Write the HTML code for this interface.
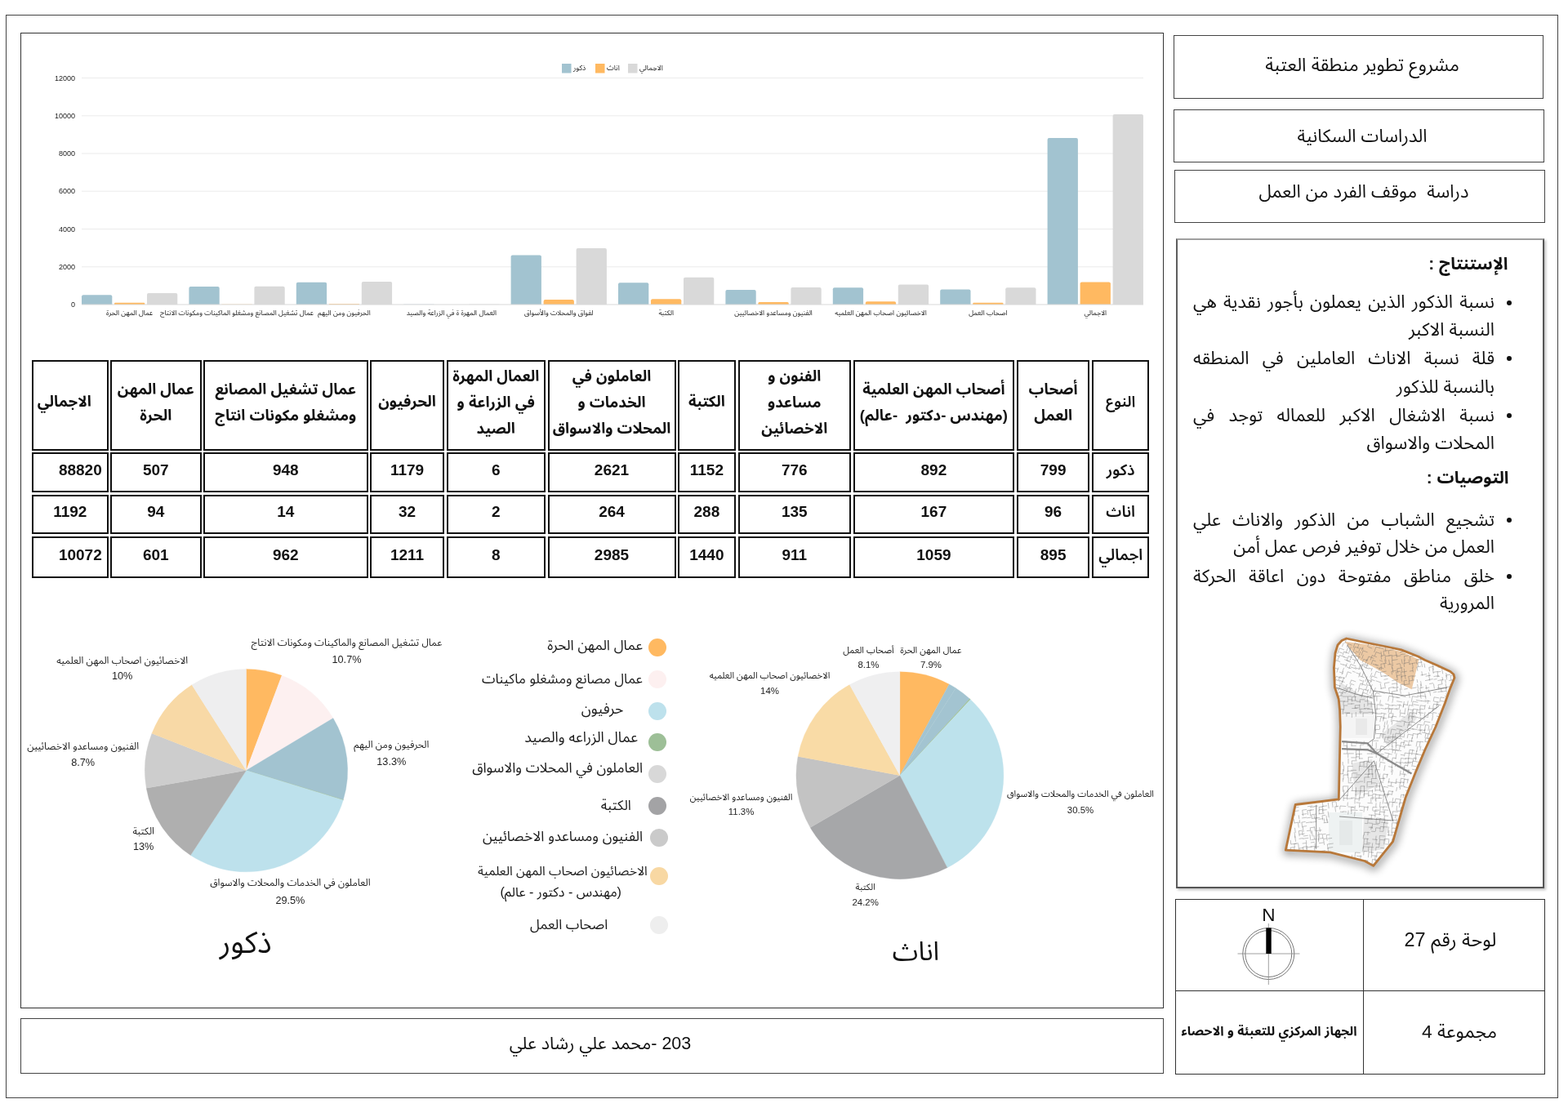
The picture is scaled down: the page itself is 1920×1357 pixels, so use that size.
<!DOCTYPE html>
<html><head><meta charset="utf-8"><style>
html,body{margin:0;padding:0;background:#fff;}
body{width:1920px;height:1357px;position:relative;overflow:hidden;font-family:"Liberation Sans", "Noto Sans Arabic", "DejaVu Sans", sans-serif;}
.bx{position:absolute;box-sizing:border-box;}
.t{position:absolute;white-space:nowrap;line-height:1.25;direction:rtl;}
.ab{position:absolute;overflow:visible;}
</style></head><body>
<div class="bx" style="left:7px;top:18px;width:1901.00px;height:1327.00px;border:1.3px solid #444;"></div><div class="bx" style="left:25px;top:40px;width:1399.50px;height:1195.00px;border:1.4px solid #333;"></div><div class="bx" style="left:25px;top:1247px;width:1400.00px;height:68.00px;border:1.3px solid #444;"></div><div class="bx" style="left:1437px;top:42.5px;width:453.00px;height:78.00px;border:1.3px solid #444;"></div><div class="bx" style="left:1436.5px;top:133.5px;width:454.50px;height:65.50px;border:1.3px solid #444;"></div><div class="bx" style="left:1437.5px;top:207.5px;width:454.00px;height:65.00px;border:1.3px solid #444;"></div><div class="bx" style="left:1440px;top:292px;width:451px;height:796px;border-left:2px solid #5e5e5e;border-top:2.5px solid #a0a0a0;border-right:2.5px solid #555;border-bottom:2.5px solid #555;box-shadow:2px 2px 3px rgba(0,0,0,.25)"></div><div class="bx" style="left:1438.5px;top:1101px;width:453.50px;height:215.00px;border:1.7px solid #333;"></div><div class="bx" style="left:1669px;top:1102px;width:0;height:213px;border-left:1.3px solid #333"></div><div class="bx" style="left:1439px;top:1213px;width:453px;height:0;border-top:1.3px solid #333"></div><div class="t" style="left:1668px;top:80px;font-size:22.6px;font-weight:400;color:#111;transform:translate(-50%,-50%);">مشروع تطوير منطقة العتبة</div><div class="t" style="left:1668px;top:167px;font-size:22px;font-weight:400;color:#111;transform:translate(-50%,-50%);">الدراسات السكانية</div><div class="t" style="left:1670px;top:235px;font-size:22px;font-weight:400;color:#111;transform:translate(-50%,-50%);">دراسة&nbsp; موقف الفرد من العمل</div><div class="t" style="left:1776px;top:1152px;font-size:23.4px;font-weight:400;color:#111;transform:translate(-50%,-50%);">لوحة رقم 27</div><div class="t" style="left:1787px;top:1263px;font-size:22.8px;font-weight:400;color:#111;transform:translate(-50%,-50%);">مجموعة 4</div><div class="t" style="left:1554px;top:1263px;font-size:15.7px;font-weight:700;color:#111;transform:translate(-50%,-50%);">الجهاز المركزي للتعبئة و الاحصاء</div><div class="t" style="left:735px;top:1278px;font-size:21.5px;font-weight:400;color:#111;transform:translate(-50%,-50%);">203 -محمد علي رشاد علي</div><svg class="ab" style="left:1500px;top:1105px" width="110" height="110" viewBox="1500 1105 110 110">
<text x="1553.3" y="1128" font-family="Liberation Sans, sans-serif" font-size="22.5" text-anchor="middle" fill="#111">N</text>
<circle cx="1553.3" cy="1168" r="31.5" fill="none" stroke="#777" stroke-width="1"/>
<circle cx="1553.3" cy="1168" r="28.5" fill="none" stroke="#777" stroke-width="1"/>
<line x1="1515.5" y1="1168" x2="1591.5" y2="1168" stroke="#888" stroke-width="0.8"/>
<line x1="1553.3" y1="1131" x2="1553.3" y2="1206" stroke="#888" stroke-width="0.8"/>
<rect x="1550.3" y="1136.5" width="6.4" height="31.5" fill="#000"/>
</svg><div class="t" style="right:73.5px;top:323px;font-size:20.8px;font-weight:700;color:#111;transform:translateY(-50%);direction:rtl;">الإستنتاج :</div><div class="bx" style="left:1844.5px;top:368px;width:6px;height:6px;border-radius:50%;background:#111"></div><div class="t" style="left:1461px;top:370px;width:369px;font-size:22px;direction:rtl;text-align:justify;text-align-last:justify;transform:translateY(-50%);color:#111">نسبة الذكور الذين يعملون بأجور نقدية هي</div><div class="t" style="right:90.0px;top:403.5px;font-size:22px;font-weight:400;color:#111;transform:translateY(-50%);direction:rtl;">النسبة الاكبر</div><div class="bx" style="left:1844.5px;top:436px;width:6px;height:6px;border-radius:50%;background:#111"></div><div class="t" style="left:1461px;top:438.5px;width:369px;font-size:22px;direction:rtl;text-align:justify;text-align-last:justify;transform:translateY(-50%);color:#111">قلة نسبة الاناث العاملين في المنطقه</div><div class="t" style="right:90.0px;top:473.5px;font-size:22px;font-weight:400;color:#111;transform:translateY(-50%);direction:rtl;">بالنسبة للذكور</div><div class="bx" style="left:1844.5px;top:506px;width:6px;height:6px;border-radius:50%;background:#111"></div><div class="t" style="left:1461px;top:508.5px;width:369px;font-size:22px;direction:rtl;text-align:justify;text-align-last:justify;transform:translateY(-50%);color:#111">نسبة الاشغال الاكبر للعماله توجد في</div><div class="t" style="right:90.0px;top:542.5px;font-size:22px;font-weight:400;color:#111;transform:translateY(-50%);direction:rtl;">المحلات والاسواق</div><div class="t" style="right:72.5px;top:585px;font-size:20.8px;font-weight:700;color:#111;transform:translateY(-50%);direction:rtl;">التوصيات :</div><div class="bx" style="left:1844.5px;top:634px;width:6px;height:6px;border-radius:50%;background:#111"></div><div class="t" style="left:1461px;top:636.5px;width:369px;font-size:22px;direction:rtl;text-align:justify;text-align-last:justify;transform:translateY(-50%);color:#111">تشجيع الشباب من الذكور والاناث علي</div><div class="t" style="right:90.0px;top:670px;font-size:22px;font-weight:400;color:#111;transform:translateY(-50%);direction:rtl;">العمل من خلال توفير فرص عمل أمن</div><div class="bx" style="left:1844.5px;top:703px;width:6px;height:6px;border-radius:50%;background:#111"></div><div class="t" style="left:1461px;top:705.5px;width:369px;font-size:22px;direction:rtl;text-align:justify;text-align-last:justify;transform:translateY(-50%);color:#111">خلق مناطق مفتوحة دون اعاقة الحركة</div><div class="t" style="right:90.0px;top:739px;font-size:22px;font-weight:400;color:#111;transform:translateY(-50%);direction:rtl;">المرورية</div><svg class="ab" style="left:0;top:0;font-family:'Liberation Sans', 'Noto Sans Arabic', 'DejaVu Sans', sans-serif" width="1430" height="400" viewBox="0 0 1430 400"><line x1="100" y1="95.5" x2="1400" y2="95.5" stroke="#ebebeb" stroke-width="1"/><text x="92" y="98.7" text-anchor="end" font-size="9" fill="#222">12000</text><line x1="100" y1="141.8" x2="1400" y2="141.8" stroke="#ebebeb" stroke-width="1"/><text x="92" y="144.9" text-anchor="end" font-size="9" fill="#222">10000</text><line x1="100" y1="188.0" x2="1400" y2="188.0" stroke="#ebebeb" stroke-width="1"/><text x="92" y="191.2" text-anchor="end" font-size="9" fill="#222">8000</text><line x1="100" y1="234.2" x2="1400" y2="234.2" stroke="#ebebeb" stroke-width="1"/><text x="92" y="237.4" text-anchor="end" font-size="9" fill="#222">6000</text><line x1="100" y1="280.5" x2="1400" y2="280.5" stroke="#ebebeb" stroke-width="1"/><text x="92" y="283.7" text-anchor="end" font-size="9" fill="#222">4000</text><line x1="100" y1="326.8" x2="1400" y2="326.8" stroke="#ebebeb" stroke-width="1"/><text x="92" y="329.9" text-anchor="end" font-size="9" fill="#222">2000</text><text x="92" y="376.2" text-anchor="end" font-size="9" fill="#222">0</text><path d="M100.00,373 V363.28 Q100.00,361.28 102.00,361.28 H135.30 Q137.30,361.28 137.30,363.28 V373 Z" fill="#a2c3d0"/><path d="M140.00,373 V371.91 Q140.00,370.83 141.09,370.83 H176.21 Q177.30,370.83 177.30,371.91 V373 Z" fill="#ffb961"/><path d="M180.00,373 V361.10 Q180.00,359.10 182.00,359.10 H215.30 Q217.30,359.10 217.30,361.10 V373 Z" fill="#d9d9d9"/><path d="M231.40,373 V353.08 Q231.40,351.08 233.40,351.08 H266.70 Q268.70,351.08 268.70,353.08 V373 Z" fill="#a2c3d0"/><path d="M271.40,373 V372.84 Q271.40,372.68 271.56,372.68 H308.54 Q308.70,372.68 308.70,372.84 V373 Z" fill="#ffb961"/><path d="M311.40,373 V352.75 Q311.40,350.75 313.40,350.75 H346.70 Q348.70,350.75 348.70,352.75 V373 Z" fill="#d9d9d9"/><path d="M362.80,373 V347.74 Q362.80,345.74 364.80,345.74 H398.10 Q400.10,345.74 400.10,347.74 V373 Z" fill="#a2c3d0"/><path d="M402.80,373 V372.63 Q402.80,372.26 403.17,372.26 H439.73 Q440.10,372.26 440.10,372.63 V373 Z" fill="#ffb961"/><path d="M442.80,373 V347.00 Q442.80,345.00 444.80,345.00 H478.10 Q480.10,345.00 480.10,347.00 V373 Z" fill="#d9d9d9"/><path d="M494.20,373 V372.93 Q494.20,372.86 494.27,372.86 H531.43 Q531.50,372.86 531.50,372.93 V373 Z" fill="#a2c3d0"/><path d="M534.20,373 V372.98 Q534.20,372.95 534.22,372.95 H571.48 Q571.50,372.95 571.50,372.98 V373 Z" fill="#ffb961"/><path d="M574.20,373 V372.91 Q574.20,372.81 574.29,372.81 H611.41 Q611.50,372.81 611.50,372.91 V373 Z" fill="#d9d9d9"/><path d="M625.60,373 V314.39 Q625.60,312.39 627.60,312.39 H660.90 Q662.90,312.39 662.90,314.39 V373 Z" fill="#a2c3d0"/><path d="M665.60,373 V368.89 Q665.60,366.89 667.60,366.89 H700.90 Q702.90,366.89 702.90,368.89 V373 Z" fill="#ffb961"/><path d="M705.60,373 V305.97 Q705.60,303.97 707.60,303.97 H740.90 Q742.90,303.97 742.90,305.97 V373 Z" fill="#d9d9d9"/><path d="M757.00,373 V348.36 Q757.00,346.36 759.00,346.36 H792.30 Q794.30,346.36 794.30,348.36 V373 Z" fill="#a2c3d0"/><path d="M797.00,373 V368.34 Q797.00,366.34 799.00,366.34 H832.30 Q834.30,366.34 834.30,368.34 V373 Z" fill="#ffb961"/><path d="M837.00,373 V341.70 Q837.00,339.70 839.00,339.70 H872.30 Q874.30,339.70 874.30,341.70 V373 Z" fill="#d9d9d9"/><path d="M888.40,373 V357.06 Q888.40,355.06 890.40,355.06 H923.70 Q925.70,355.06 925.70,357.06 V373 Z" fill="#a2c3d0"/><path d="M928.40,373 V371.44 Q928.40,369.88 929.96,369.88 H964.14 Q965.70,369.88 965.70,371.44 V373 Z" fill="#ffb961"/><path d="M968.40,373 V353.93 Q968.40,351.93 970.40,351.93 H1003.70 Q1005.70,351.93 1005.70,353.93 V373 Z" fill="#d9d9d9"/><path d="M1019.80,373 V354.37 Q1019.80,352.37 1021.80,352.37 H1055.10 Q1057.10,352.37 1057.10,354.37 V373 Z" fill="#a2c3d0"/><path d="M1059.80,373 V371.07 Q1059.80,369.14 1061.73,369.14 H1095.17 Q1097.10,369.14 1097.10,371.07 V373 Z" fill="#ffb961"/><path d="M1099.80,373 V350.51 Q1099.80,348.51 1101.80,348.51 H1135.10 Q1137.10,348.51 1137.10,350.51 V373 Z" fill="#d9d9d9"/><path d="M1151.20,373 V356.52 Q1151.20,354.52 1153.20,354.52 H1186.50 Q1188.50,354.52 1188.50,356.52 V373 Z" fill="#a2c3d0"/><path d="M1191.20,373 V371.89 Q1191.20,370.78 1192.31,370.78 H1227.39 Q1228.50,370.78 1228.50,371.89 V373 Z" fill="#ffb961"/><path d="M1231.20,373 V354.30 Q1231.20,352.30 1233.20,352.30 H1266.50 Q1268.50,352.30 1268.50,354.30 V373 Z" fill="#d9d9d9"/><path d="M1282.60,373 V171.04 Q1282.60,169.04 1284.60,169.04 H1317.90 Q1319.90,169.04 1319.90,171.04 V373 Z" fill="#a2c3d0"/><path d="M1322.60,373 V347.44 Q1322.60,345.44 1324.60,345.44 H1357.90 Q1359.90,345.44 1359.90,347.44 V373 Z" fill="#ffb961"/><path d="M1362.60,373 V142.09 Q1362.60,140.09 1364.60,140.09 H1397.90 Q1399.90,140.09 1399.90,142.09 V373 Z" fill="#d9d9d9"/><line x1="100" y1="373.0" x2="1400" y2="373.0" stroke="#d9d9d9" stroke-width="1"/><text x="158.7" y="385.6" text-anchor="middle" font-size="8.4" fill="#222" direction="rtl">عمال المهن الحرة</text><text x="290.1" y="385.6" text-anchor="middle" font-size="8.4" fill="#222" direction="rtl">عمال تشغيل المصانع ومشغلو الماكينات ومكونات الانتاج</text><text x="421.5" y="385.6" text-anchor="middle" font-size="8.4" fill="#222" direction="rtl">الحرفيون ومن اليهم</text><text x="552.9" y="385.6" text-anchor="middle" font-size="8.4" fill="#222" direction="rtl">العمال المهرة ة في الزراعة والصيد</text><text x="684.3" y="385.6" text-anchor="middle" font-size="8.4" fill="#222" direction="rtl">لفواق والمحلات والأسواق</text><text x="815.7" y="385.6" text-anchor="middle" font-size="8.4" fill="#222" direction="rtl">الكتبة</text><text x="947.1" y="385.6" text-anchor="middle" font-size="8.4" fill="#222" direction="rtl">الفنيون ومساعدو الاخصائيين</text><text x="1078.5" y="385.6" text-anchor="middle" font-size="8.4" fill="#222" direction="rtl">الاخصائيون اصحاب المهن العلميه</text><text x="1209.9" y="385.6" text-anchor="middle" font-size="8.4" fill="#222" direction="rtl">اصحاب العمل</text><text x="1341.3" y="385.6" text-anchor="middle" font-size="8.4" fill="#222" direction="rtl">الاجمالي</text><rect x="688" y="78" width="11.5" height="11.5" fill="#a2c3d0"/><text x="702" y="85.5" text-anchor="start" font-size="8.8" fill="#222">ذكور</text><rect x="729" y="78" width="11.5" height="11.5" fill="#ffb961"/><text x="743" y="85.5" text-anchor="start" font-size="8.8" fill="#222">اناث</text><rect x="769" y="78" width="11.5" height="11.5" fill="#d9d9d9"/><text x="783" y="85.5" text-anchor="start" font-size="8.8" fill="#222">الاجمالي</text></svg><div class="bx" style="left:38.5px;top:440.5px;width:94.5px;height:111.5px;border:2px solid #111"></div><div class="t" style="left:78.8px;top:491.5px;font-size:18.5px;font-weight:700;color:#111;transform:translate(-50%,-50%);direction:rtl;text-align:center;line-height:32px">الاجمالي</div><div class="bx" style="left:135px;top:440.5px;width:111.5px;height:111.5px;border:2px solid #111"></div><div class="t" style="left:190.75px;top:493px;font-size:18.5px;font-weight:700;color:#111;transform:translate(-50%,-50%);direction:rtl;text-align:center;line-height:32px">عمال المهن<br>الحرة</div><div class="bx" style="left:249px;top:440.5px;width:201.5px;height:111.5px;border:2px solid #111"></div><div class="t" style="left:349.75px;top:493px;font-size:18.5px;font-weight:700;color:#111;transform:translate(-50%,-50%);direction:rtl;text-align:center;line-height:32px">عمال تشغيل المصانع<br>ومشغلو مكونات انتاج</div><div class="bx" style="left:453px;top:440.5px;width:91.0px;height:111.5px;border:2px solid #111"></div><div class="t" style="left:498.5px;top:491.5px;font-size:18.5px;font-weight:700;color:#111;transform:translate(-50%,-50%);direction:rtl;text-align:center;line-height:32px">الحرفيون</div><div class="bx" style="left:546.5px;top:440.5px;width:121.5px;height:111.5px;border:2px solid #111"></div><div class="t" style="left:607.25px;top:493px;font-size:18.5px;font-weight:700;color:#111;transform:translate(-50%,-50%);direction:rtl;text-align:center;line-height:32px">العمال المهرة<br>في الزراعة و<br>الصيد</div><div class="bx" style="left:670.5px;top:440.5px;width:157.0px;height:111.5px;border:2px solid #111"></div><div class="t" style="left:749.0px;top:493px;font-size:18.5px;font-weight:700;color:#111;transform:translate(-50%,-50%);direction:rtl;text-align:center;line-height:32px">العاملون في<br>الخدمات و<br>المحلات والاسواق</div><div class="bx" style="left:830px;top:440.5px;width:70.7px;height:111.5px;border:2px solid #111"></div><div class="t" style="left:865.35px;top:491.5px;font-size:18.5px;font-weight:700;color:#111;transform:translate(-50%,-50%);direction:rtl;text-align:center;line-height:32px">الكتبة</div><div class="bx" style="left:903.5px;top:440.5px;width:138.5px;height:111.5px;border:2px solid #111"></div><div class="t" style="left:972.75px;top:493px;font-size:18.5px;font-weight:700;color:#111;transform:translate(-50%,-50%);direction:rtl;text-align:center;line-height:32px">الفنون و<br>مساعدو<br>الاخصائين</div><div class="bx" style="left:1044.8px;top:440.5px;width:197.2px;height:111.5px;border:2px solid #111"></div><div class="t" style="left:1143.4px;top:493px;font-size:18.5px;font-weight:700;color:#111;transform:translate(-50%,-50%);direction:rtl;text-align:center;line-height:32px">أصحاب المهن العلمية<br>(مهندس -دكتور&nbsp; -عالم)</div><div class="bx" style="left:1245px;top:440.5px;width:89.2px;height:111.5px;border:2px solid #111"></div><div class="t" style="left:1289.6px;top:493px;font-size:18.5px;font-weight:700;color:#111;transform:translate(-50%,-50%);direction:rtl;text-align:center;line-height:32px">أصحاب<br>العمل</div><div class="bx" style="left:1337px;top:440.5px;width:70.4px;height:111.5px;border:2px solid #111"></div><div class="t" style="left:1372.2px;top:491.5px;font-size:18.5px;font-weight:600;color:#111;transform:translate(-50%,-50%);direction:rtl;text-align:center;line-height:32px">النوع</div><div class="bx" style="left:38.5px;top:554px;width:94.5px;height:49.0px;border:2px solid #111"></div><div class="t" style="left:98.3px;top:576.0px;font-size:19px;font-weight:700;color:#111;transform:translate(-50%,-50%);direction:rtl;">88820</div><div class="bx" style="left:135px;top:554px;width:111.5px;height:49.0px;border:2px solid #111"></div><div class="t" style="left:190.75px;top:576.0px;font-size:19px;font-weight:700;color:#111;transform:translate(-50%,-50%);direction:rtl;">507</div><div class="bx" style="left:249px;top:554px;width:201.5px;height:49.0px;border:2px solid #111"></div><div class="t" style="left:349.75px;top:576.0px;font-size:19px;font-weight:700;color:#111;transform:translate(-50%,-50%);direction:rtl;">948</div><div class="bx" style="left:453px;top:554px;width:91.0px;height:49.0px;border:2px solid #111"></div><div class="t" style="left:498.5px;top:576.0px;font-size:19px;font-weight:700;color:#111;transform:translate(-50%,-50%);direction:rtl;">1179</div><div class="bx" style="left:546.5px;top:554px;width:121.5px;height:49.0px;border:2px solid #111"></div><div class="t" style="left:607.25px;top:576.0px;font-size:19px;font-weight:700;color:#111;transform:translate(-50%,-50%);direction:rtl;">6</div><div class="bx" style="left:670.5px;top:554px;width:157.0px;height:49.0px;border:2px solid #111"></div><div class="t" style="left:749.0px;top:576.0px;font-size:19px;font-weight:700;color:#111;transform:translate(-50%,-50%);direction:rtl;">2621</div><div class="bx" style="left:830px;top:554px;width:70.7px;height:49.0px;border:2px solid #111"></div><div class="t" style="left:865.35px;top:576.0px;font-size:19px;font-weight:700;color:#111;transform:translate(-50%,-50%);direction:rtl;">1152</div><div class="bx" style="left:903.5px;top:554px;width:138.5px;height:49.0px;border:2px solid #111"></div><div class="t" style="left:972.75px;top:576.0px;font-size:19px;font-weight:700;color:#111;transform:translate(-50%,-50%);direction:rtl;">776</div><div class="bx" style="left:1044.8px;top:554px;width:197.2px;height:49.0px;border:2px solid #111"></div><div class="t" style="left:1143.4px;top:576.0px;font-size:19px;font-weight:700;color:#111;transform:translate(-50%,-50%);direction:rtl;">892</div><div class="bx" style="left:1245px;top:554px;width:89.2px;height:49.0px;border:2px solid #111"></div><div class="t" style="left:1289.6px;top:576.0px;font-size:19px;font-weight:700;color:#111;transform:translate(-50%,-50%);direction:rtl;">799</div><div class="bx" style="left:1337px;top:554px;width:70.4px;height:49.0px;border:2px solid #111"></div><div class="t" style="left:1372.2px;top:576.0px;font-size:19px;font-weight:600;color:#111;transform:translate(-50%,-50%);direction:rtl;">ذكور</div><div class="bx" style="left:38.5px;top:605.5px;width:94.5px;height:48.5px;border:2px solid #111"></div><div class="t" style="left:85.75px;top:627.25px;font-size:19px;font-weight:700;color:#111;transform:translate(-50%,-50%);direction:rtl;">1192</div><div class="bx" style="left:135px;top:605.5px;width:111.5px;height:48.5px;border:2px solid #111"></div><div class="t" style="left:190.75px;top:627.25px;font-size:19px;font-weight:700;color:#111;transform:translate(-50%,-50%);direction:rtl;">94</div><div class="bx" style="left:249px;top:605.5px;width:201.5px;height:48.5px;border:2px solid #111"></div><div class="t" style="left:349.75px;top:627.25px;font-size:19px;font-weight:700;color:#111;transform:translate(-50%,-50%);direction:rtl;">14</div><div class="bx" style="left:453px;top:605.5px;width:91.0px;height:48.5px;border:2px solid #111"></div><div class="t" style="left:498.5px;top:627.25px;font-size:19px;font-weight:700;color:#111;transform:translate(-50%,-50%);direction:rtl;">32</div><div class="bx" style="left:546.5px;top:605.5px;width:121.5px;height:48.5px;border:2px solid #111"></div><div class="t" style="left:607.25px;top:627.25px;font-size:19px;font-weight:700;color:#111;transform:translate(-50%,-50%);direction:rtl;">2</div><div class="bx" style="left:670.5px;top:605.5px;width:157.0px;height:48.5px;border:2px solid #111"></div><div class="t" style="left:749.0px;top:627.25px;font-size:19px;font-weight:700;color:#111;transform:translate(-50%,-50%);direction:rtl;">264</div><div class="bx" style="left:830px;top:605.5px;width:70.7px;height:48.5px;border:2px solid #111"></div><div class="t" style="left:865.35px;top:627.25px;font-size:19px;font-weight:700;color:#111;transform:translate(-50%,-50%);direction:rtl;">288</div><div class="bx" style="left:903.5px;top:605.5px;width:138.5px;height:48.5px;border:2px solid #111"></div><div class="t" style="left:972.75px;top:627.25px;font-size:19px;font-weight:700;color:#111;transform:translate(-50%,-50%);direction:rtl;">135</div><div class="bx" style="left:1044.8px;top:605.5px;width:197.2px;height:48.5px;border:2px solid #111"></div><div class="t" style="left:1143.4px;top:627.25px;font-size:19px;font-weight:700;color:#111;transform:translate(-50%,-50%);direction:rtl;">167</div><div class="bx" style="left:1245px;top:605.5px;width:89.2px;height:48.5px;border:2px solid #111"></div><div class="t" style="left:1289.6px;top:627.25px;font-size:19px;font-weight:700;color:#111;transform:translate(-50%,-50%);direction:rtl;">96</div><div class="bx" style="left:1337px;top:605.5px;width:70.4px;height:48.5px;border:2px solid #111"></div><div class="t" style="left:1372.2px;top:627.25px;font-size:19px;font-weight:600;color:#111;transform:translate(-50%,-50%);direction:rtl;">اناث</div><div class="bx" style="left:38.5px;top:657px;width:94.5px;height:50.5px;border:2px solid #111"></div><div class="t" style="left:98.3px;top:679.75px;font-size:19px;font-weight:700;color:#111;transform:translate(-50%,-50%);direction:rtl;">10072</div><div class="bx" style="left:135px;top:657px;width:111.5px;height:50.5px;border:2px solid #111"></div><div class="t" style="left:190.75px;top:679.75px;font-size:19px;font-weight:700;color:#111;transform:translate(-50%,-50%);direction:rtl;">601</div><div class="bx" style="left:249px;top:657px;width:201.5px;height:50.5px;border:2px solid #111"></div><div class="t" style="left:349.75px;top:679.75px;font-size:19px;font-weight:700;color:#111;transform:translate(-50%,-50%);direction:rtl;">962</div><div class="bx" style="left:453px;top:657px;width:91.0px;height:50.5px;border:2px solid #111"></div><div class="t" style="left:498.5px;top:679.75px;font-size:19px;font-weight:700;color:#111;transform:translate(-50%,-50%);direction:rtl;">1211</div><div class="bx" style="left:546.5px;top:657px;width:121.5px;height:50.5px;border:2px solid #111"></div><div class="t" style="left:607.25px;top:679.75px;font-size:19px;font-weight:700;color:#111;transform:translate(-50%,-50%);direction:rtl;">8</div><div class="bx" style="left:670.5px;top:657px;width:157.0px;height:50.5px;border:2px solid #111"></div><div class="t" style="left:749.0px;top:679.75px;font-size:19px;font-weight:700;color:#111;transform:translate(-50%,-50%);direction:rtl;">2985</div><div class="bx" style="left:830px;top:657px;width:70.7px;height:50.5px;border:2px solid #111"></div><div class="t" style="left:865.35px;top:679.75px;font-size:19px;font-weight:700;color:#111;transform:translate(-50%,-50%);direction:rtl;">1440</div><div class="bx" style="left:903.5px;top:657px;width:138.5px;height:50.5px;border:2px solid #111"></div><div class="t" style="left:972.75px;top:679.75px;font-size:19px;font-weight:700;color:#111;transform:translate(-50%,-50%);direction:rtl;">911</div><div class="bx" style="left:1044.8px;top:657px;width:197.2px;height:50.5px;border:2px solid #111"></div><div class="t" style="left:1143.4px;top:679.75px;font-size:19px;font-weight:700;color:#111;transform:translate(-50%,-50%);direction:rtl;">1059</div><div class="bx" style="left:1245px;top:657px;width:89.2px;height:50.5px;border:2px solid #111"></div><div class="t" style="left:1289.6px;top:679.75px;font-size:19px;font-weight:700;color:#111;transform:translate(-50%,-50%);direction:rtl;">895</div><div class="bx" style="left:1337px;top:657px;width:70.4px;height:50.5px;border:2px solid #111"></div><div class="t" style="left:1372.2px;top:679.75px;font-size:19px;font-weight:600;color:#111;transform:translate(-50%,-50%);direction:rtl;">اجمالي</div><svg class="ab" style="left:0;top:740px" width="1430" height="400" viewBox="0 740 1430 400"><path d="M301.50,943.60 L301.50,819.40 A124.2,124.2 0 0 1 345.11,827.31 Z" fill="#ffb961" stroke="#ffb961" stroke-width="0.3"/><path d="M301.50,943.60 L345.11,827.31 A124.2,124.2 0 0 1 407.95,879.61 Z" fill="#fdf0f0" stroke="#fdf0f0" stroke-width="0.3"/><path d="M301.50,943.60 L407.95,879.61 A124.2,124.2 0 0 1 420.41,979.46 Z" fill="#a2c3d0" stroke="#a2c3d0" stroke-width="0.3"/><path d="M301.50,943.60 L420.41,979.46 A124.2,124.2 0 0 1 420.26,979.97 Z" fill="#9dbf97" stroke="#9dbf97" stroke-width="0.3"/><path d="M301.50,943.60 L420.26,979.97 A124.2,124.2 0 0 1 233.34,1047.43 Z" fill="#bde1ec" stroke="#bde1ec" stroke-width="0.3"/><path d="M301.50,943.60 L233.34,1047.43 A124.2,124.2 0 0 1 179.19,965.20 Z" fill="#afafaf" stroke="#afafaf" stroke-width="0.3"/><path d="M301.50,943.60 L179.19,965.20 A124.2,124.2 0 0 1 185.90,898.19 Z" fill="#cdcdcd" stroke="#cdcdcd" stroke-width="0.3"/><path d="M301.50,943.60 L185.90,898.19 A124.2,124.2 0 0 1 234.97,838.73 Z" fill="#f8d9a6" stroke="#f8d9a6" stroke-width="0.3"/><path d="M301.50,943.60 L234.97,838.73 A124.2,124.2 0 0 1 301.50,819.40 Z" fill="#eeeeef" stroke="#eeeeef" stroke-width="0.3"/><path d="M1101.90,949.70 L1101.90,822.70 A127,127 0 0 1 1162.28,837.97 Z" fill="#ffb961" stroke="#ffb961" stroke-width="0.3"/><path d="M1101.90,949.70 L1162.28,837.97 A127,127 0 0 1 1170.36,842.73 Z" fill="#a3c4d1" stroke="#a3c4d1" stroke-width="0.3"/><path d="M1101.90,949.70 L1170.36,842.73 A127,127 0 0 1 1187.34,855.74 Z" fill="#a3c4d1" stroke="#a3c4d1" stroke-width="0.3"/><path d="M1101.90,949.70 L1187.34,855.74 A127,127 0 0 1 1188.33,856.65 Z" fill="#9dbf97" stroke="#9dbf97" stroke-width="0.3"/><path d="M1101.90,949.70 L1188.33,856.65 A127,127 0 0 1 1159.91,1062.67 Z" fill="#bde2ec" stroke="#bde2ec" stroke-width="0.3"/><path d="M1101.90,949.70 L1159.91,1062.67 A127,127 0 0 1 992.14,1013.59 Z" fill="#a6a7a9" stroke="#a6a7a9" stroke-width="0.3"/><path d="M1101.90,949.70 L992.14,1013.59 A127,127 0 0 1 977.06,926.40 Z" fill="#c3c3c3" stroke="#c3c3c3" stroke-width="0.3"/><path d="M1101.90,949.70 L977.06,926.40 A127,127 0 0 1 1040.34,838.62 Z" fill="#f9dba6" stroke="#f9dba6" stroke-width="0.3"/><path d="M1101.90,949.70 L1040.34,838.62 A127,127 0 0 1 1101.90,822.70 Z" fill="#efeff0" stroke="#efeff0" stroke-width="0.3"/></svg><div class="t" style="left:424.5px;top:786.6px;font-size:12px;font-weight:400;color:#1e1e1e;transform:translate(-50%,-50%);">عمال تشغيل المصانع والماكينات ومكونات الانتاج</div><div class="t" style="left:424.5px;top:808.6px;font-size:12.7px;font-weight:400;color:#1e1e1e;transform:translate(-50%,-50%);">10.7%</div><div class="t" style="left:149.7px;top:808.6px;font-size:12px;font-weight:400;color:#1e1e1e;transform:translate(-50%,-50%);">الاخصائيون اصحاب المهن العلميه</div><div class="t" style="left:149.7px;top:828.8px;font-size:12.7px;font-weight:400;color:#1e1e1e;transform:translate(-50%,-50%);">10%</div><div class="t" style="left:479.3px;top:911.8px;font-size:12px;font-weight:400;color:#1e1e1e;transform:translate(-50%,-50%);">الحرفيون ومن اليهم</div><div class="t" style="left:479.3px;top:933.5px;font-size:12.7px;font-weight:400;color:#1e1e1e;transform:translate(-50%,-50%);">13.3%</div><div class="t" style="left:101.6px;top:914px;font-size:12px;font-weight:400;color:#1e1e1e;transform:translate(-50%,-50%);">الفنيون ومساعدو الاخصائيين</div><div class="t" style="left:101.6px;top:935.2px;font-size:12.7px;font-weight:400;color:#1e1e1e;transform:translate(-50%,-50%);">8.7%</div><div class="t" style="left:175.7px;top:1017.9px;font-size:12px;font-weight:400;color:#1e1e1e;transform:translate(-50%,-50%);">الكتبة</div><div class="t" style="left:175.7px;top:1038px;font-size:12.7px;font-weight:400;color:#1e1e1e;transform:translate(-50%,-50%);">13%</div><div class="t" style="left:355.4px;top:1081.1px;font-size:12px;font-weight:400;color:#1e1e1e;transform:translate(-50%,-50%);">العاملون في الخدمات والمحلات والاسواق</div><div class="t" style="left:355.4px;top:1103.8px;font-size:12.7px;font-weight:400;color:#1e1e1e;transform:translate(-50%,-50%);">29.5%</div><div class="t" style="left:1139.9px;top:796.8px;font-size:11px;font-weight:400;color:#1e1e1e;transform:translate(-50%,-50%);">عمال المهن الحرة</div><div class="t" style="left:1139.9px;top:813.5px;font-size:11.4px;font-weight:400;color:#1e1e1e;transform:translate(-50%,-50%);">7.9%</div><div class="t" style="left:1063.5px;top:796.8px;font-size:11px;font-weight:400;color:#1e1e1e;transform:translate(-50%,-50%);">أصحاب العمل</div><div class="t" style="left:1063.5px;top:813.5px;font-size:11.4px;font-weight:400;color:#1e1e1e;transform:translate(-50%,-50%);">8.1%</div><div class="t" style="left:942.5px;top:827.9px;font-size:11px;font-weight:400;color:#1e1e1e;transform:translate(-50%,-50%);">الاخصائيون اصحاب المهن العلميه</div><div class="t" style="left:942.5px;top:846.0px;font-size:11.4px;font-weight:400;color:#1e1e1e;transform:translate(-50%,-50%);">14%</div><div class="t" style="left:907.6px;top:976.8px;font-size:11px;font-weight:400;color:#1e1e1e;transform:translate(-50%,-50%);">الفنيون ومساعدو الاخصائيين</div><div class="t" style="left:907.6px;top:994.3px;font-size:11.4px;font-weight:400;color:#1e1e1e;transform:translate(-50%,-50%);">11.3%</div><div class="t" style="left:1059.7px;top:1087.4px;font-size:11px;font-weight:400;color:#1e1e1e;transform:translate(-50%,-50%);">الكتبة</div><div class="t" style="left:1059.7px;top:1104.8px;font-size:11.4px;font-weight:400;color:#1e1e1e;transform:translate(-50%,-50%);">24.2%</div><div class="t" style="left:1323px;top:972.7px;font-size:11px;font-weight:400;color:#1e1e1e;transform:translate(-50%,-50%);">العاملون في الخدمات والمحلات والاسواق</div><div class="t" style="left:1323px;top:992.3px;font-size:11.4px;font-weight:400;color:#1e1e1e;transform:translate(-50%,-50%);">30.5%</div><div class="t" style="left:300.6px;top:1154.5px;font-size:37px;font-weight:430;color:#111;transform:translate(-50%,-50%);">ذكور</div><div class="t" style="left:1121.5px;top:1164.5px;font-size:32px;font-weight:430;color:#111;transform:translate(-50%,-50%);">اناث</div><div class="bx" style="left:794.2px;top:782px;width:22px;height:22px;border-radius:50%;background:#ffb961"></div><div class="t" style="right:1133.0px;top:791px;font-size:17.1px;font-weight:400;color:#1a1a1a;transform:translateY(-50%);">عمال المهن الحرة</div><div class="bx" style="left:794.2px;top:820.6px;width:22px;height:22px;border-radius:50%;background:#fdf0f0"></div><div class="t" style="right:1133.0px;top:832px;font-size:16.7px;font-weight:400;color:#1a1a1a;transform:translateY(-50%);">عمال مصانع ومشغلو ماكينات</div><div class="bx" style="left:794.2px;top:859.5px;width:22px;height:22px;border-radius:50%;background:#bde1ec"></div><div class="t" style="right:1156.6px;top:869px;font-size:17.6px;font-weight:400;color:#1a1a1a;transform:translateY(-50%);">حرفيون</div><div class="bx" style="left:794.2px;top:898.1px;width:22px;height:22px;border-radius:50%;background:#9dbf97"></div><div class="t" style="right:1139.0px;top:904.4px;font-size:17.6px;font-weight:400;color:#1a1a1a;transform:translateY(-50%);">عمال الزراعه والصيد</div><div class="bx" style="left:794.2px;top:936.7px;width:22px;height:22px;border-radius:50%;background:#d8d8d8"></div><div class="t" style="right:1133.0px;top:941.3px;font-size:17.2px;font-weight:400;color:#1a1a1a;transform:translateY(-50%);">العاملون في المحلات والاسواق</div><div class="bx" style="left:794.2px;top:976px;width:22px;height:22px;border-radius:50%;background:#a3a3a5"></div><div class="t" style="right:1147.2px;top:987px;font-size:16.8px;font-weight:400;color:#1a1a1a;transform:translateY(-50%);">الكتبة</div><div class="bx" style="left:796px;top:1015px;width:22px;height:22px;border-radius:50%;background:#cacaca"></div><div class="t" style="right:1133.0px;top:1025.3px;font-size:17.2px;font-weight:400;color:#1a1a1a;transform:translateY(-50%);">الفنيون ومساعدو الاخصائيين</div><div class="bx" style="left:796px;top:1062px;width:22px;height:22px;border-radius:50%;background:#f8d8a3"></div><div class="t" style="right:1127.2px;top:1067px;font-size:15.5px;font-weight:400;color:#1a1a1a;transform:translateY(-50%);">الاخصائيون اصحاب المهن العلمية</div><div class="bx" style="left:796px;top:1121.8px;width:22px;height:22px;border-radius:50%;background:#eeeeee"></div><div class="t" style="right:1175.8px;top:1132.8px;font-size:16.8px;font-weight:400;color:#1a1a1a;transform:translateY(-50%);">اصحاب العمل</div><div class="t" style="left:686.7px;top:1093px;font-size:16.0px;font-weight:400;color:#111;transform:translate(-50%,-50%);direction:rtl;">(مهندس - دكتور - عالم)</div><svg class="ab" style="left:1540px;top:760px" width="280" height="330" viewBox="1540 760 280 330"><defs><filter id="sh" x="-30%" y="-30%" width="160%" height="160%"><feGaussianBlur stdDeviation="5.5"/></filter><clipPath id="cp"><polygon points="1648.7,782.0 1675.0,787.5 1700.0,792.5 1715.8,795.9 1736.5,804.0 1744.5,808.3 1760.0,815.0 1776.0,822.5 1780.0,826.0 1781.0,830.0 1775.0,845.0 1769.4,861.0 1758.0,890.0 1745.0,918.0 1733.4,945.7 1721.0,977.0 1705.6,1030.6 1681.7,1060.4 1671.1,1054.5 1628.7,1043.8 1574.3,1041.2 1586.2,985.5 1639.3,978.9 1641.3,890.0 1640.6,870.0 1639.2,856.2 1634.4,841.8 1633.4,817.9 1635.0,800.0 1638.0,790.0 1643.0,784.5"/></clipPath></defs><polygon points="1648.7,782.0 1675.0,787.5 1700.0,792.5 1715.8,795.9 1736.5,804.0 1744.5,808.3 1760.0,815.0 1776.0,822.5 1780.0,826.0 1781.0,830.0 1775.0,845.0 1769.4,861.0 1758.0,890.0 1745.0,918.0 1733.4,945.7 1721.0,977.0 1705.6,1030.6 1681.7,1060.4 1671.1,1054.5 1628.7,1043.8 1574.3,1041.2 1586.2,985.5 1639.3,978.9 1641.3,890.0 1640.6,870.0 1639.2,856.2 1634.4,841.8 1633.4,817.9 1635.0,800.0 1638.0,790.0 1643.0,784.5" fill="none" stroke="#000" stroke-width="6" opacity="0.5" filter="url(#sh)" transform="translate(1,2)"/><polygon points="1648.7,782.0 1675.0,787.5 1700.0,792.5 1715.8,795.9 1736.5,804.0 1744.5,808.3 1760.0,815.0 1776.0,822.5 1780.0,826.0 1781.0,830.0 1775.0,845.0 1769.4,861.0 1758.0,890.0 1745.0,918.0 1733.4,945.7 1721.0,977.0 1705.6,1030.6 1681.7,1060.4 1671.1,1054.5 1628.7,1043.8 1574.3,1041.2 1586.2,985.5 1639.3,978.9 1641.3,890.0 1640.6,870.0 1639.2,856.2 1634.4,841.8 1633.4,817.9 1635.0,800.0 1638.0,790.0 1643.0,784.5" fill="#fcfcfc"/><g clip-path="url(#cp)"><polygon points="1640.0,835.0 1680.0,860.0 1682.0,875.0 1641.0,875.0" fill="#e6e6e6"/><polygon points="1690.0,900.0 1730.0,870.0 1735.0,880.0 1700.0,915.0" fill="#e6e6e6"/><polygon points="1655.0,935.0 1680.0,930.0 1690.0,960.0 1660.0,975.0" fill="#e6e6e6"/><polygon points="1670.0,1000.0 1700.0,1005.0 1695.0,1040.0 1668.0,1044.0" fill="#e6e6e6"/><polygon points="1643.0,876.0 1683.0,876.0 1683.0,904.0 1643.0,904.0" fill="#f4f4f4"/><rect x="1660" y="880" width="14" height="20" fill="#e9e9e9"/><polygon points="1627.0,995.0 1668.0,995.0 1668.0,1044.0 1627.0,1044.0" fill="#eef2f2"/><rect x="1640" y="1005" width="16" height="30" fill="#e5e9e9"/><polygon points="1646.8,785.8 1675.0,789.5 1700.0,794.5 1715.8,797.9 1737.3,807.8 1728.7,844.2 1712.0,836.0 1695.0,824.5 1680.0,816.0 1665.6,808.5 1652.0,793.0" fill="#ecc9a4"/><path d="M1575.9 1037.7l0.6 4.4M1580.1 1028.8l0.7 5.3M1580.8 1034.0l6.9 -1.0M1580.1 1038.2l5.8 -0.8M1580.1 1038.2l0.9 6.1M1586.2 989.0l4.2 -0.6M1584.9 993.6l5.6 -0.8M1584.9 993.6l0.8 5.5M1584.2 1002.9l0.7 4.6M1584.2 1008.0l7.1 -1.0M1585.5 1013.9l0.8 6.0M1585.0 1019.2l1.0 7.1M1585.6 1023.7l1.0 7.1M1584.8 1033.5l5.1 -0.7M1584.8 1033.5l0.6 4.0M1584.7 1038.3l1.0 7.2M1590.2 998.3l0.7 4.8M1591.2 1004.0l0.6 4.2M1589.5 1007.8l0.8 5.8M1590.3 1017.7l4.7 -0.7M1590.3 1017.7l0.9 6.5M1590.8 1022.0l6.8 -1.0M1590.6 1027.3l4.9 -0.7M1589.7 1033.4l0.8 5.9M1590.6 1039.0l5.2 -0.7M1590.6 1039.0l1.0 7.0M1594.7 992.2l5.4 -0.8M1594.7 992.2l1.0 7.3M1593.9 997.5l6.2 -0.9M1594.2 1001.9l6.0 -0.8M1593.9 1007.1l4.7 -0.7M1593.9 1007.1l0.9 6.4M1595.2 1012.3l4.9 -0.7M1595.2 1012.3l0.9 6.6M1594.5 1018.1l0.7 4.9M1595.9 1024.0l5.9 -0.8M1595.0 1027.3l7.2 -1.0M1594.7 1033.1l4.9 -0.7M1595.4 1037.4l5.6 -0.8M1595.4 1037.4l0.9 6.7M1601.0 987.8l6.2 -0.9M1600.8 992.7l5.4 -0.8M1600.8 992.7l0.8 5.3M1600.3 1001.8l5.1 -0.7M1599.1 1007.7l6.7 -0.9M1600.1 1017.6l4.5 -0.6M1599.3 1029.1l0.6 4.2M1599.4 1033.2l1.0 7.2M1599.7 1037.9l7.3 -1.0M1599.7 1037.9l1.0 7.1M1604.0 988.7l5.8 -0.8M1603.8 992.4l5.1 -0.7M1603.8 992.4l1.0 7.1M1605.8 997.8l6.0 -0.8M1605.8 997.8l0.6 4.1M1606.0 1002.5l7.2 -1.0M1604.9 1007.3l7.2 -1.0M1604.3 1013.8l5.6 -0.8M1604.3 1013.8l1.0 7.0M1606.2 1017.3l1.0 7.0M1603.9 1022.1l1.0 7.1M1605.9 1028.5l6.4 -0.9M1604.9 1032.0l5.0 -0.7M1604.3 1037.2l6.3 -0.9M1608.9 987.8l4.7 -0.7M1609.1 997.9l0.7 4.8M1610.9 1002.1l5.0 -0.7M1610.9 1002.1l0.6 4.2M1609.4 1012.4l0.8 5.6M1611.0 1017.7l7.4 -1.0M1608.9 1022.8l0.7 5.2M1609.9 1032.7l0.9 6.7M1609.3 1037.6l5.9 -0.8M1609.3 1037.6l0.7 4.7M1614.6 982.8l6.0 -0.8M1615.1 988.5l5.3 -0.7M1615.1 988.5l0.6 4.2M1614.8 991.9l6.0 -0.8M1614.8 991.9l0.7 5.1M1614.4 996.9l7.1 -1.0M1614.4 1003.4l5.6 -0.8M1615.7 1013.3l0.8 5.4M1614.5 1018.8l1.0 7.1M1613.9 1022.1l5.0 -0.7M1613.9 1022.1l1.0 7.3M1614.2 1027.3l6.3 -0.9M1614.2 1027.3l0.6 4.0M1615.1 1032.7l5.7 -0.8M1616.1 1042.6l7.0 -1.0M1616.1 1042.6l0.9 6.4M1619.2 982.1l0.8 5.7M1619.1 987.6l5.9 -0.8M1619.1 987.6l0.9 6.1M1619.5 992.3l5.2 -0.7M1619.5 992.3l0.6 4.1M1619.0 998.9l4.2 -0.6M1619.0 998.9l0.8 5.6M1621.2 1002.3l0.8 5.4M1620.7 1007.8l5.9 -0.8M1619.2 1021.9l4.4 -0.6M1619.2 1021.9l0.7 5.2M1620.6 1027.5l4.0 -0.6M1620.6 1027.5l1.0 7.3M1626.2 982.8l1.0 7.4M1626.1 993.8l1.0 7.4M1624.0 998.9l0.9 6.8M1624.9 1003.1l0.7 4.9M1624.2 1022.7l4.1 -0.6M1624.2 1022.7l1.0 7.0M1625.8 1027.1l5.3 -0.7M1625.3 1034.0l7.4 -1.0M1625.3 1034.0l0.9 6.1M1625.9 1038.5l6.3 -0.9M1625.9 1038.5l0.6 4.0M1624.6 1042.6l0.9 6.1M1631.2 982.3l4.5 -0.6M1631.2 982.3l0.9 6.5M1636.1 802.8l4.3 1.6M1635.6 808.5l5.5 2.0M1635.6 808.5l-1.5 4.1M1633.9 817.8l4.6 1.7M1633.9 817.8l-2.5 6.8M1636.1 828.2l6.7 2.5M1636.1 828.2l-1.7 4.7M1635.6 832.4l5.2 1.9M1635.6 832.4l-1.8 4.9M1634.8 837.9l6.5 2.4M1634.8 837.9l-2.0 5.5M1635.1 842.8l4.1 1.5M1635.1 842.8l-1.7 4.8M1636.0 982.0l0.9 6.6M1634.7 987.9l4.4 -0.6M1634.7 987.9l0.9 6.5M1640.2 793.8l5.7 2.1M1640.2 793.8l-2.5 7.0M1639.6 798.5l4.6 1.7M1640.2 802.4l6.5 2.4M1640.2 802.4l-2.2 6.1M1641.0 812.9l4.5 1.6M1639.0 817.5l-2.2 6.1M1640.2 823.1l4.3 1.5M1640.6 828.7l6.3 2.3M1640.6 828.7l-1.6 4.4M1640.1 833.3l6.3 2.3M1641.0 839.0l-2.5 6.9M1639.4 847.4l5.5 2.0M1639.4 847.4l-1.7 4.7M1639.4 852.1l5.0 0.0M1639.4 852.1l-0.0 5.0M1640.0 858.9l7.0 0.0M1640.3 863.1l-0.0 6.3M1641.0 868.7l4.2 0.0M1641.0 912.0l-0.0 7.5M1640.4 938.9l-0.0 4.3M1640.1 947.7l4.7 0.0M1640.1 964.1l-0.0 5.1M1641.0 987.0l7.3 0.6M1641.0 987.0l-0.4 4.4M1640.9 994.1l4.1 0.4M1645.1 787.4l-1.6 4.5M1645.7 798.1l6.3 2.3M1645.7 798.1l-1.6 4.5M1644.8 804.2l4.9 1.8M1646.2 807.7l6.4 2.3M1644.6 813.7l4.7 1.7M1645.6 817.9l-2.0 5.4M1644.7 822.0l-1.6 4.4M1645.9 829.1l-2.5 6.8M1644.1 833.5l-1.5 4.2M1644.9 842.7l4.7 1.7M1644.0 847.2l3.9 1.4M1644.0 847.2l-1.6 4.4M1644.1 853.1l6.0 0.0M1645.1 859.1l4.8 0.0M1645.1 859.1l-0.0 5.1M1645.6 864.0l4.6 0.0M1645.6 864.0l-0.0 6.0M1644.5 868.7l-0.0 6.1M1645.8 872.9l7.3 0.0M1645.4 907.9l4.1 0.0M1645.4 907.9l-0.0 4.1M1644.4 913.3l5.7 0.0M1644.8 923.1l5.2 0.0M1644.2 933.0l-0.0 4.6M1645.5 937.4l-0.0 7.3M1644.5 942.0l-0.0 6.0M1645.0 949.0l5.3 0.0M1645.0 949.0l-0.0 5.7M1644.4 953.2l-0.0 4.3M1644.5 962.9l6.8 0.0M1644.5 962.9l-0.0 6.9M1645.7 967.4l-0.0 5.5M1645.1 974.1l5.7 0.0M1645.1 974.1l-0.0 6.9M1645.0 977.6l4.8 0.0M1644.2 993.8l4.8 0.4M1648.9 782.2l-2.2 5.9M1650.7 788.5l4.8 1.7M1650.7 788.5l-1.6 4.4M1650.4 793.4l-2.5 6.8M1651.1 803.7l4.7 1.7M1651.1 803.7l-2.0 5.4M1648.9 808.9l5.3 1.9M1649.4 812.3l-1.8 4.8M1649.0 816.9l5.5 2.0M1650.3 822.8l4.5 1.6M1650.3 822.8l-2.5 6.9M1649.4 838.1l-1.6 4.4M1650.6 841.9l5.6 2.0M1650.6 841.9l-2.2 6.1M1650.5 852.9l4.4 0.0M1650.5 852.9l-0.0 7.3M1650.9 856.9l4.9 0.0M1649.9 862.1l6.0 0.0M1648.9 873.5l4.2 0.0M1648.9 873.5l-0.0 4.1M1649.3 908.9l5.4 0.0M1649.3 908.9l-0.0 7.1M1649.4 913.7l-0.0 5.3M1649.8 917.9l6.2 0.0M1649.8 917.9l-0.0 5.1M1650.7 922.9l7.1 0.0M1650.7 922.9l-0.0 5.3M1651.0 929.1l-0.0 6.3M1650.4 938.4l6.3 0.0M1650.4 938.4l-0.0 6.7M1650.1 944.2l6.5 0.0M1650.1 944.2l-0.0 5.5M1650.6 947.4l-0.0 5.4M1651.2 952.3l-0.0 6.0M1650.8 958.8l6.1 0.0M1650.6 963.6l-0.0 6.5M1650.1 968.1l-0.0 6.7M1649.6 973.5l-0.0 6.0M1650.1 978.0l6.2 0.0M1650.4 982.5l-0.4 4.5M1650.3 987.9l7.4 0.7M1651.1 992.6l-0.4 5.0M1649.4 1048.0l-0.6 6.8M1654.3 792.3l-2.5 6.9M1654.6 797.9l6.5 2.4M1655.4 802.2l6.1 2.2M1655.4 802.2l-2.4 6.7M1655.9 807.3l4.5 1.6M1653.9 813.5l6.5 2.4M1653.9 813.5l-2.1 5.7M1654.0 816.9l7.0 2.5M1655.9 822.0l3.8 1.4M1654.6 832.9l5.6 2.0M1654.6 832.9l-1.8 4.9M1654.4 837.5l3.8 1.4M1654.4 837.5l-2.1 5.7M1654.4 842.1l-2.0 5.4M1655.4 853.5l5.4 0.0M1655.4 853.5l-0.0 5.8M1654.9 858.1l6.8 0.0M1654.3 861.9l4.1 0.0M1655.3 867.5l7.0 0.0M1655.4 873.5l-0.0 5.4M1655.0 909.2l7.5 0.0M1655.0 909.2l-0.0 4.5M1654.7 913.3l6.0 0.0M1654.3 927.9l5.2 0.0M1655.3 931.8l6.3 0.0M1655.3 931.8l-0.0 4.3M1654.0 943.3l6.9 0.0M1655.6 946.9l6.8 0.0M1655.6 946.9l-0.0 4.7M1653.9 952.2l7.4 0.0M1653.9 952.2l-0.0 4.9M1656.0 961.9l-0.0 6.9M1654.4 968.5l5.7 0.0M1654.0 977.2l5.0 0.0M1654.7 988.5l4.2 0.4M1654.7 988.5l-0.5 5.3M1655.1 991.9l7.4 0.6M1655.1 991.9l-0.4 5.1M1655.5 1046.9l-0.4 4.6M1659.1 787.5l4.1 1.5M1659.1 787.5l-2.1 5.9M1659.2 792.2l5.0 1.8M1659.2 792.2l-2.0 5.6M1660.0 797.7l3.9 1.4M1659.3 802.6l6.7 2.4M1659.7 808.1l-1.8 5.0M1658.9 817.5l6.2 2.3M1660.5 824.0l5.1 1.8M1660.8 843.4l-1.9 5.1M1660.2 847.1l-2.1 5.8M1659.5 852.6l-0.0 5.6M1660.9 859.2l5.3 0.0M1659.3 863.8l5.9 0.0M1659.3 863.8l-0.0 4.0M1658.8 866.8l5.0 0.0M1660.3 872.0l-0.0 5.7M1661.1 907.3l-0.0 4.1M1660.4 919.1l4.3 0.0M1660.4 919.1l-0.0 5.6M1660.8 923.4l7.0 0.0M1660.8 923.4l-0.0 4.4M1660.3 926.9l4.1 0.0M1660.3 926.9l-0.0 4.2M1660.4 949.1l6.7 0.0M1659.9 951.8l4.9 0.0M1660.0 958.0l4.5 0.0M1660.4 964.2l-0.0 5.6M1660.0 968.7l7.2 0.0M1660.0 968.7l-0.0 5.4M1660.0 972.7l-0.0 5.4M1659.0 978.4l4.5 0.0M1659.0 978.4l-0.0 6.1M1660.6 982.9l5.3 0.5M1659.3 986.8l-0.4 4.4M1659.1 993.9l-0.6 6.3M1659.5 1044.0l6.2 0.5M1659.5 1044.0l-0.6 7.2M1661.1 1048.3l6.5 0.6M1664.2 788.6l-1.9 5.1M1665.5 793.5l4.1 1.5M1665.5 793.5l-1.6 4.3M1665.8 798.0l-1.8 5.0M1664.2 804.1l-2.2 6.1M1665.9 814.1l5.9 2.1M1665.9 814.1l-1.9 5.1M1664.7 818.4l4.9 1.8M1665.7 823.4l-2.1 5.9M1664.4 827.6l6.4 2.3M1664.5 832.7l4.2 1.5M1665.9 837.0l6.3 2.3M1665.9 837.0l-2.4 6.6M1664.6 842.9l4.7 1.7M1664.6 842.9l-1.7 4.7M1664.6 852.3l4.3 0.0M1665.2 856.8l6.1 0.0M1665.2 856.8l-0.0 4.1M1664.8 862.6l-0.0 7.2M1665.9 868.2l6.8 0.0M1665.9 868.2l-0.0 6.0M1664.0 872.0l4.5 0.0M1665.8 912.0l4.2 0.0M1665.8 912.0l-0.0 7.4M1664.5 917.9l6.0 0.0M1664.5 917.9l-0.0 6.7M1664.6 923.8l-0.0 5.9M1664.0 928.9l4.9 0.0M1665.2 933.4l5.8 0.0M1665.2 933.4l-0.0 5.6M1664.4 938.4l4.5 0.0M1664.4 938.4l-0.0 5.9M1664.3 957.1l4.8 0.0M1666.0 962.9l5.2 0.0M1666.0 962.9l-0.0 6.3M1665.5 968.7l5.6 0.0M1665.5 968.7l-0.0 5.3M1664.9 973.4l-0.0 6.0M1664.1 976.9l5.3 0.0M1664.1 976.9l-0.0 4.3M1664.8 984.1l-0.4 5.1M1664.7 987.5l6.0 0.5M1664.7 992.2l4.0 0.4M1666.2 1047.3l-0.4 5.0M1669.0 792.4l-1.6 4.5M1669.0 796.9l5.6 2.0M1669.0 796.9l-2.0 5.6M1669.5 801.8l-2.0 5.4M1669.7 807.4l4.7 1.7M1669.7 807.4l-1.5 4.1M1668.9 813.0l6.6 2.4M1668.9 813.0l-1.9 5.2M1670.1 816.9l6.3 2.3M1670.0 822.6l-2.3 6.4M1669.9 833.1l-2.3 6.5M1670.2 844.0l5.3 1.9M1670.2 844.0l-2.5 6.9M1669.2 848.2l6.2 2.3M1669.2 848.2l-2.2 6.2M1669.5 853.9l4.8 0.0M1670.9 858.7l4.3 0.0M1670.6 861.9l-0.0 4.1M1670.0 867.6l7.1 0.0M1669.1 872.9l6.4 0.0M1669.1 872.9l-0.0 5.2M1670.3 907.6l-0.0 4.1M1668.9 917.4l6.8 0.0M1670.0 932.5l6.3 0.0M1670.0 932.5l-0.0 6.2M1669.2 939.1l4.8 0.0M1670.8 948.2l6.6 0.0M1670.8 951.9l6.6 0.0M1670.8 951.9l-0.0 7.1M1670.5 962.7l-0.0 7.2M1670.5 968.7l4.7 0.0M1670.5 968.7l-0.0 6.4M1670.1 972.1l5.4 0.0M1670.1 972.1l-0.0 4.8M1670.6 988.3l5.2 0.5M1670.6 988.3l-0.6 6.3M1671.2 1002.9l6.1 0.5M1670.9 1008.3l4.0 0.4M1670.7 1019.2l7.1 0.6M1670.7 1019.2l-0.4 4.0M1669.6 1022.6l-0.4 4.9M1670.5 1027.0l5.4 0.5M1670.5 1027.0l-0.5 6.1M1669.8 1033.7l7.4 0.6M1669.8 1033.7l-0.5 5.8M1669.3 1036.8l7.1 0.6M1669.3 1036.8l-0.5 5.7M1670.1 1042.4l4.2 0.4M1670.1 1042.4l-0.4 5.0M1670.9 1053.6l4.4 0.4M1676.1 788.0l7.0 2.5M1676.1 788.0l-1.5 4.0M1675.4 792.4l4.8 1.7M1675.9 804.0l6.5 2.4M1675.9 804.0l-2.1 5.7M1674.0 807.0l-2.2 6.1M1675.1 811.8l-2.4 6.7M1675.8 818.0l3.9 1.4M1674.1 828.5l-2.3 6.3M1675.2 832.8l4.7 1.7M1675.2 832.8l-2.4 6.7M1674.6 838.7l4.4 1.6M1674.6 838.7l-2.5 6.9M1675.6 844.2l-1.6 4.3M1674.5 852.4l4.5 0.0M1674.5 852.4l-0.0 5.7M1674.8 857.7l-0.0 6.9M1675.1 862.0l6.1 0.0M1673.9 868.5l6.4 0.0M1675.5 872.4l7.4 0.0M1674.0 913.1l5.5 0.0M1674.4 918.8l5.4 0.0M1673.8 923.1l6.5 0.0M1675.5 927.3l5.7 0.0M1675.5 927.3l-0.0 5.9M1674.0 933.5l4.2 0.0M1674.0 933.5l-0.0 7.3M1675.8 938.9l7.4 0.0M1675.8 938.9l-0.0 6.5M1676.1 942.3l4.4 0.0M1676.1 942.3l-0.0 6.8M1675.3 947.9l6.2 0.0M1675.3 947.9l-0.0 4.5M1674.1 957.5l5.7 0.0M1674.1 957.5l-0.0 7.0M1675.4 963.7l7.2 0.0M1675.8 968.7l5.2 0.0M1675.8 968.7l-0.0 6.7M1674.9 974.2l5.5 0.0M1674.5 983.3l6.3 0.6M1675.0 987.1l-0.5 5.6M1675.8 997.9l4.2 0.4M1675.2 1002.8l5.6 0.5M1675.2 1002.8l-0.4 4.4M1674.0 1007.8l6.9 0.6M1675.9 1013.1l4.9 0.4M1675.2 1018.4l-0.4 4.7M1674.4 1026.9l-0.6 7.2M1674.3 1032.3l4.1 0.4M1675.9 1037.2l6.0 0.5M1675.9 1037.2l-0.5 6.1M1676.0 1043.6l6.1 0.5M1676.0 1043.6l-0.6 6.6M1674.6 1054.1l-0.5 6.2M1680.2 802.6l5.6 2.1M1680.2 802.6l-2.1 5.9M1680.9 808.5l3.8 1.4M1680.9 808.5l-1.9 5.2M1680.8 813.1l5.8 2.1M1680.4 818.1l-1.5 4.2M1679.9 823.9l-2.1 5.6M1680.0 827.9l6.4 2.3M1680.0 827.9l-1.6 4.5M1679.5 832.3l4.0 1.5M1679.5 832.3l-1.6 4.3M1680.3 838.2l-2.1 5.8M1679.5 842.9l-2.2 6.2M1680.2 849.1l-2.3 6.3M1679.5 852.7l6.6 0.0M1679.2 859.1l-0.0 7.5M1680.3 862.7l4.1 0.0M1680.5 868.3l-0.0 6.6M1680.2 873.3l6.3 0.0M1680.5 907.2l7.5 0.0M1680.5 907.2l-0.0 7.0M1678.8 914.1l-0.0 6.2M1679.9 917.2l5.5 0.0M1679.1 923.1l5.9 0.0M1679.5 933.1l-0.0 6.3M1680.0 937.5l4.8 0.0M1680.0 937.5l-0.0 5.5M1680.2 942.4l-0.0 6.8M1680.7 947.4l-0.0 5.2M1679.4 953.5l6.4 0.0M1679.4 953.5l-0.0 7.0M1679.4 958.9l5.4 0.0M1680.6 967.0l-0.0 4.2M1680.8 972.5l4.6 0.0M1680.8 972.5l-0.0 7.0M1678.8 977.2l4.2 0.0M1678.8 977.2l-0.0 5.7M1681.0 988.4l5.3 0.5M1681.0 988.4l-0.4 4.4M1681.0 993.0l5.7 0.5M1679.5 998.2l4.8 0.4M1679.5 998.2l-0.5 5.7M1680.6 1009.2l7.5 0.7M1680.6 1009.2l-0.5 5.8M1679.2 1012.0l-0.4 4.1M1679.0 1018.1l4.9 0.4M1680.3 1027.9l6.4 0.6M1680.7 1032.4l-0.4 4.4M1680.0 1037.2l-0.6 7.3M1679.8 1043.8l-0.6 6.7M1680.0 1047.8l6.3 0.5M1680.5 1052.6l5.2 0.5M1680.5 1052.6l-0.6 6.7M1678.8 1058.0l4.5 0.4M1685.1 792.1l4.6 1.7M1685.1 792.1l-2.5 6.9M1685.0 798.6l5.8 2.1M1685.0 798.6l-1.6 4.5M1683.9 813.6l4.5 1.6M1685.6 817.4l6.4 2.3M1685.1 822.2l4.4 1.6M1685.1 822.2l-2.1 5.7M1684.8 833.8l6.7 2.4M1684.4 842.0l-2.1 5.8M1685.1 848.3l4.5 1.7M1685.1 848.3l-2.2 6.1M1685.9 852.6l5.6 0.0M1685.9 852.6l-0.0 6.2M1686.1 862.9l6.3 0.0M1686.1 862.9l-0.0 6.9M1684.8 868.1l5.3 0.0M1684.8 868.1l-0.0 5.0M1684.9 874.1l7.2 0.0M1685.7 877.5l7.1 0.0M1685.7 877.5l-0.0 5.0M1684.2 888.0l5.3 0.0M1684.2 888.0l-0.0 6.9M1684.5 893.4l4.9 0.0M1684.5 893.4l-0.0 6.0M1685.2 898.5l7.3 0.0M1685.2 903.9l5.0 0.0M1685.2 909.1l-0.0 7.3M1685.9 918.1l5.6 0.0M1685.9 918.1l-0.0 5.2M1685.2 922.2l4.4 0.0M1685.2 922.2l-0.0 5.8M1685.4 932.5l-0.0 7.0M1684.4 939.1l-0.0 6.6M1684.2 942.7l5.2 0.0M1684.2 942.7l-0.0 4.6M1684.8 947.0l-0.0 6.5M1685.8 959.0l-0.0 6.1M1684.0 962.7l6.2 0.0M1684.0 962.7l-0.0 6.6M1684.0 967.8l6.9 0.0M1684.2 973.4l6.2 0.0M1684.2 973.4l-0.0 7.3M1684.9 977.5l7.4 0.0M1684.9 977.5l-0.0 4.8M1685.1 983.4l-0.4 5.1M1684.0 991.9l5.0 0.4M1684.0 991.9l-0.4 5.0M1684.1 996.9l6.6 0.6M1684.1 996.9l-0.4 4.3M1685.5 1002.0l5.7 0.5M1685.5 1002.0l-0.6 6.7M1685.0 1008.1l4.1 0.4M1684.7 1013.8l5.5 0.5M1684.7 1013.8l-0.4 4.5M1685.1 1023.6l-0.4 4.6M1685.3 1027.9l-0.4 5.0M1684.1 1033.6l5.0 0.4M1685.0 1037.5l4.0 0.3M1685.0 1037.5l-0.4 4.1M1686.1 1043.9l7.3 0.6M1686.1 1043.9l-0.6 6.4M1684.1 1047.8l-0.5 6.3M1684.6 1053.4l5.7 0.5M1684.6 1053.4l-0.5 5.8M1683.9 1057.4l-0.5 5.6M1688.9 792.9l5.6 2.0M1690.9 798.0l1.1 6.2M1691.0 803.3l5.7 -1.0M1691.0 803.3l0.8 4.6M1689.3 808.7l3.9 1.4M1690.8 813.4l7.2 -1.3M1690.8 813.4l1.0 5.7M1689.9 817.2l4.4 1.6M1689.9 817.2l-1.4 3.9M1690.3 823.4l7.2 -1.3M1690.3 823.4l1.0 5.5M1691.0 828.4l6.5 -1.1M1690.2 837.1l1.2 6.7M1690.3 843.3l5.2 -0.9M1689.1 846.9l6.6 2.4M1690.5 857.3l-0.8 4.5M1689.6 864.1l4.6 0.0M1690.6 867.4l6.9 1.2M1691.0 873.2l6.5 1.1M1690.8 878.6l7.3 1.3M1690.8 878.6l-1.0 5.5M1689.5 889.0l-0.0 4.1M1690.5 898.6l6.2 1.1M1690.5 898.6l-0.8 4.7M1690.8 913.7l4.9 0.9M1690.8 913.7l-0.9 5.0M1690.8 917.3l5.5 1.0M1690.8 917.3l-0.7 4.0M1690.3 923.3l4.2 0.7M1690.1 927.5l4.5 0.8M1690.1 927.5l-0.9 5.2M1690.2 933.4l6.0 1.1M1690.2 933.4l-1.1 6.5M1689.7 947.4l-0.0 4.6M1689.0 953.4l7.2 0.0M1690.1 957.6l4.1 0.7M1690.1 957.6l-1.2 6.9M1689.5 961.8l-0.0 6.7M1689.9 969.1l5.7 0.0M1688.9 974.0l6.4 0.0M1688.9 974.0l-0.0 4.3M1690.1 982.0l-0.6 6.7M1690.3 988.2l4.5 0.4M1690.3 988.2l-0.5 5.5M1689.5 994.1l6.6 0.6M1689.5 994.1l-0.4 4.3M1689.8 1002.6l6.4 0.6M1689.8 1002.6l-0.5 6.1M1690.8 1007.0l5.2 0.5M1690.3 1012.3l4.0 0.4M1690.3 1012.3l-0.4 4.2M1689.1 1018.0l4.7 0.4M1689.5 1023.5l6.9 0.6M1689.5 1023.5l-0.4 4.6M1689.5 1028.3l7.2 0.6M1689.5 1028.3l-0.5 5.4M1689.0 1032.9l-0.4 4.6M1690.1 1038.3l4.7 0.4M1690.7 1048.9l5.1 0.4M1696.1 793.3l5.3 -0.9M1696.1 793.3l0.9 5.0M1694.0 797.4l5.5 -1.0M1694.0 797.4l0.8 4.7M1696.0 803.9l6.7 -1.2M1696.0 803.9l1.2 6.5M1695.7 807.6l0.8 4.5M1694.8 812.1l1.0 5.7M1695.2 828.4l5.8 -1.0M1694.5 832.3l5.0 -0.9M1695.3 836.8l6.1 -1.1M1695.3 836.8l1.1 6.3M1696.2 862.0l4.7 0.8M1696.0 867.3l7.0 1.2M1695.2 873.9l-1.3 7.3M1694.5 878.3l-0.9 5.0M1696.0 883.7l-1.1 6.1M1695.6 889.1l-0.8 4.3M1694.2 892.4l-0.8 4.5M1694.0 898.4l-1.0 5.7M1696.2 902.7l6.7 1.2M1696.2 902.7l-1.2 6.9M1695.7 908.6l5.6 1.0M1694.2 917.3l6.7 1.2M1695.4 921.9l6.0 1.1M1694.0 927.0l5.4 0.9M1694.0 927.0l-0.8 4.5M1696.0 937.1l-1.2 6.9M1694.1 947.9l5.9 1.0M1694.1 947.9l-1.1 6.3M1694.7 951.8l-0.9 4.9M1694.1 963.3l5.8 1.0M1694.1 963.3l-0.9 4.9M1694.6 972.6l6.5 1.1M1694.6 972.6l-0.8 4.7M1694.3 977.8l-1.2 6.7M1694.9 983.2l5.4 0.5M1694.0 987.9l5.0 0.4M1694.0 987.9l-0.4 4.7M1695.2 991.9l4.9 0.4M1695.2 991.9l-0.6 6.9M1695.4 998.9l4.6 0.4M1695.4 998.9l-0.5 5.8M1695.8 1003.8l-0.4 4.1M1694.6 1007.8l5.2 0.5M1694.6 1007.8l-0.6 7.0M1694.3 1012.6l6.9 0.6M1694.3 1012.6l-0.5 5.5M1695.3 1027.3l5.9 0.5M1695.3 1027.3l-0.6 7.0M1696.2 1033.8l7.4 0.6M1698.9 792.8l7.3 -1.3M1700.0 796.9l6.6 -1.2M1700.0 796.9l0.8 4.3M1699.8 803.2l5.2 -0.9M1700.6 807.8l1.2 6.5M1699.0 814.0l4.5 -0.8M1700.5 842.6l6.7 -1.2M1700.5 842.6l1.1 6.4M1700.9 852.3l4.9 0.9M1700.9 852.3l-1.2 6.5M1700.6 863.6l5.3 0.9M1700.6 863.6l-0.8 4.3M1701.0 867.7l4.2 0.7M1701.0 867.7l-0.9 5.1M1701.1 873.3l4.5 0.8M1701.1 873.3l-1.1 6.3M1700.3 878.0l5.4 0.9M1698.9 882.4l-0.9 5.1M1699.8 887.5l-1.0 5.9M1700.5 892.6l-1.1 6.1M1699.9 901.9l6.9 1.2M1699.9 901.9l-0.8 4.7M1700.3 907.4l4.2 0.7M1700.8 917.4l7.3 1.3M1700.3 923.3l4.3 0.7M1700.3 923.3l-0.8 4.7M1698.8 932.3l5.2 0.9M1699.9 938.7l5.2 0.9M1698.9 947.7l-0.9 4.9M1701.2 953.2l-1.1 6.1M1699.7 957.5l4.7 0.8M1699.0 962.1l7.4 1.3M1700.4 968.6l5.7 1.0M1700.4 968.6l-1.0 5.7M1698.9 972.1l5.1 0.9M1698.9 972.1l-0.8 4.7M1701.0 982.1l7.0 0.6M1701.0 982.1l-0.4 4.5M1700.0 1014.0l-0.6 6.4M1700.9 1016.8l-0.6 6.9M1698.8 1022.6l4.7 0.4M1700.7 1028.4l-0.4 5.0M1704.1 803.5l7.1 -1.3M1704.1 803.5l0.9 5.4M1704.4 808.8l7.1 -1.2M1704.4 808.8l1.2 7.0M1703.8 813.5l1.1 6.0M1704.8 817.0l1.2 6.7M1703.9 822.2l6.8 -1.2M1703.9 822.2l0.7 4.0M1704.4 833.6l6.6 -1.2M1704.0 837.9l5.5 -1.0M1705.5 842.8l6.8 -1.2M1704.3 847.1l7.2 -1.3M1704.3 847.1l1.2 7.0M1706.1 853.5l6.5 1.1M1706.1 853.5l-1.3 7.2M1704.2 863.2l6.3 1.1M1704.3 867.7l7.3 1.3M1704.3 867.7l-1.0 5.5M1706.1 873.7l-0.8 4.4M1704.7 877.0l5.5 1.0M1704.7 877.0l-1.3 7.3M1705.1 882.2l6.3 1.1M1705.1 882.2l-0.9 5.4M1703.9 893.0l5.9 1.0M1703.9 893.0l-1.2 6.6M1706.1 898.6l-0.8 4.3M1705.6 902.3l6.0 1.0M1705.6 902.3l-1.2 6.9M1705.1 909.1l5.5 1.0M1705.1 909.1l-1.0 5.9M1705.4 913.2l-0.9 5.2M1705.6 918.1l7.1 1.3M1705.6 918.1l-0.7 4.2M1705.3 928.0l4.5 0.8M1705.3 928.0l-1.2 6.8M1705.1 934.2l-1.1 6.0M1704.8 939.0l-1.2 7.0M1705.4 942.7l-1.1 6.3M1704.0 958.0l6.2 1.1M1704.0 958.0l-0.9 5.0M1705.3 968.4l-1.0 5.4M1705.9 977.0l-0.8 4.4M1705.3 982.6l6.1 0.5M1705.3 982.6l-0.5 5.9M1705.5 993.8l6.2 0.5M1705.5 993.8l-0.4 4.3M1704.9 998.4l7.3 0.6M1704.9 998.4l-0.5 5.7M1704.9 1004.1l4.9 0.4M1704.7 1007.6l7.2 0.6M1704.7 1007.6l-0.5 6.0M1704.4 1014.0l6.4 0.6M1704.4 1014.0l-0.5 5.8M1704.6 1019.1l6.9 0.6M1704.6 1019.1l-0.4 4.8M1706.2 1022.7l4.9 0.4M1706.2 1022.7l-0.5 5.8M1704.7 1027.5l5.6 0.5M1704.7 1027.5l-0.5 5.8M1709.1 797.9l1.3 7.2M1710.0 803.9l5.3 -0.9M1709.8 813.5l4.3 -0.8M1710.8 818.9l6.6 -1.2M1710.8 818.9l1.0 5.7M1709.5 823.0l5.8 -1.0M1709.5 823.0l1.2 6.6M1710.4 827.5l4.8 -0.8M1710.4 827.5l1.0 5.4M1710.0 833.6l0.9 5.0M1710.0 836.8l1.1 6.0M1710.2 842.7l0.7 4.0M1709.6 853.9l4.7 0.8M1710.1 858.7l7.0 1.2M1710.5 863.2l5.9 1.0M1708.8 867.6l4.8 0.8M1710.1 883.0l5.9 1.0M1710.2 888.6l7.0 1.2M1710.0 892.5l7.3 1.3M1709.0 898.0l6.0 1.1M1709.0 898.0l-1.2 7.1M1710.0 903.8l7.0 1.2M1710.0 903.8l-1.0 5.8M1709.8 909.1l-0.9 5.2M1709.9 912.4l4.8 0.9M1709.9 912.4l-0.9 5.2M1708.9 918.4l7.1 1.2M1708.9 918.4l-0.9 4.9M1710.1 922.5l-1.3 7.1M1709.4 933.3l5.7 1.0M1709.4 933.3l-1.0 5.8M1710.4 938.8l5.9 1.0M1710.1 953.7l-1.1 6.2M1709.4 957.7l6.4 1.1M1710.6 964.1l-0.9 5.0M1708.9 978.1l6.9 1.2M1708.9 978.1l-0.7 4.0M1710.5 986.8l-0.5 6.3M1710.6 993.1l4.8 0.4M1709.1 997.7l-0.4 4.5M1710.4 1002.6l-0.6 6.9M1710.8 1007.2l5.5 0.5M1710.8 1007.2l-0.6 7.2M1709.6 1013.3l7.3 0.6M1714.0 798.8l4.8 -0.8M1714.7 801.8l6.3 -1.1M1716.2 807.4l1.0 5.7M1714.5 812.8l1.0 5.4M1716.0 817.9l0.9 5.1M1715.5 823.4l7.4 -1.3M1715.5 823.4l1.2 6.9M1715.5 828.5l6.5 -1.1M1715.5 828.5l1.1 6.2M1715.0 838.6l4.4 -0.8M1715.0 838.6l1.2 6.5M1714.2 842.9l1.2 6.9M1714.5 852.2l7.0 1.2M1714.2 862.1l-1.0 5.7M1714.8 869.0l-0.7 4.2M1714.9 873.1l5.9 1.0M1714.9 873.1l-0.9 5.2M1715.8 877.5l4.6 0.8M1715.9 882.8l5.2 0.9M1714.1 894.1l6.5 1.1M1714.1 894.1l-0.7 4.1M1715.4 897.4l-1.1 6.2M1714.8 901.9l5.0 0.9M1715.7 909.0l4.7 0.8M1715.7 909.0l-0.9 5.0M1714.3 913.6l5.8 1.0M1714.3 913.6l-0.9 5.0M1714.8 924.2l4.6 0.8M1715.6 928.5l6.4 1.1M1715.6 928.5l-1.3 7.2M1715.6 933.7l7.1 1.3M1715.6 933.7l-1.3 7.2M1714.9 939.1l5.7 1.0M1715.1 943.8l-1.1 6.4M1715.1 947.8l7.1 1.2M1715.5 953.2l5.0 0.9M1715.5 953.2l-0.7 4.2M1714.7 957.7l4.2 0.7M1714.7 957.7l-1.3 7.2M1715.1 962.4l5.2 0.9M1715.1 962.4l-0.8 4.5M1715.8 973.1l6.3 1.1M1715.8 973.1l-0.7 4.2M1714.9 978.8l-1.2 6.8M1713.9 983.0l5.0 0.4M1713.9 983.0l-0.5 6.1M1715.5 988.9l4.2 0.4M1715.5 988.9l-0.4 4.3M1714.1 992.2l4.5 0.4M1714.7 998.0l-0.5 5.7M1719.4 803.7l5.4 -0.9M1719.4 803.7l1.0 5.9M1719.2 807.7l1.0 5.7M1718.9 812.4l6.1 -1.1M1718.9 812.4l0.8 4.5M1719.1 818.6l0.9 5.0M1719.5 823.1l0.8 4.5M1720.3 827.5l0.8 4.3M1719.0 833.9l4.0 -0.7M1719.0 833.9l1.1 6.1M1719.3 838.8l5.8 -1.0M1719.3 844.2l4.4 -0.8M1719.4 859.0l-1.2 7.0M1718.8 862.6l4.7 0.8M1718.8 862.6l-0.7 4.1M1721.1 867.3l-1.3 7.1M1719.9 884.2l6.5 1.1M1719.9 884.2l-0.9 5.2M1720.3 893.5l6.6 1.2M1719.9 898.2l-0.7 4.1M1719.4 907.2l4.5 0.8M1719.4 907.2l-1.0 5.6M1720.4 912.1l5.6 1.0M1720.4 912.1l-0.8 4.5M1720.3 922.0l4.9 0.9M1720.3 922.0l-0.7 4.2M1720.5 928.4l4.7 0.8M1720.1 933.5l7.2 1.3M1720.0 937.1l4.0 0.7M1720.0 937.1l-1.2 6.6M1719.1 942.3l7.3 1.3M1719.1 942.3l-0.9 5.4M1720.1 946.9l-0.9 5.0M1719.6 954.2l5.0 0.9M1719.6 954.2l-0.9 5.0M1719.2 957.6l-0.8 4.7M1718.9 963.7l4.9 0.9M1721.1 968.1l6.8 1.2M1718.8 972.5l-0.8 4.5M1726.2 804.1l6.3 -1.1M1726.2 804.1l1.0 5.5M1725.0 807.6l1.2 6.7M1725.6 813.3l4.4 -0.8M1725.9 822.1l4.2 -0.7M1724.7 828.5l6.1 -1.1M1724.7 828.5l1.0 5.5M1725.2 834.1l6.6 -1.2M1725.2 834.1l0.8 4.5M1725.0 847.7l1.2 7.1M1724.2 858.4l-1.0 5.9M1725.4 863.5l5.3 0.9M1725.4 863.5l-1.1 6.1M1724.6 868.7l6.6 1.2M1724.6 868.7l-1.2 6.9M1725.8 872.7l4.7 0.8M1725.8 872.7l-1.3 7.3M1725.7 876.9l5.9 1.0M1725.7 876.9l-1.0 5.8M1725.8 883.8l7.3 1.3M1725.8 883.8l-1.0 5.6M1724.2 887.4l4.9 0.9M1724.2 887.4l-0.9 4.8M1724.4 892.1l7.1 1.2M1724.4 892.1l-1.0 5.5M1724.1 899.2l6.6 1.2M1724.1 899.2l-0.9 4.9M1725.5 907.0l4.9 0.9M1725.5 907.0l-0.9 5.4M1724.1 912.1l4.1 0.7M1726.1 918.2l6.0 1.1M1726.1 918.2l-0.9 4.9M1725.7 922.4l4.1 0.7M1725.7 922.4l-1.3 7.1M1725.0 928.5l4.9 0.9M1725.0 928.5l-1.0 5.7M1724.5 933.0l5.3 0.9M1724.5 933.0l-1.0 5.6M1724.9 942.5l-0.9 5.2M1724.2 953.8l-1.0 5.5M1724.7 963.1l7.0 1.2M1729.2 802.4l5.6 -1.0M1729.4 812.5l4.1 -0.7M1729.4 812.5l1.0 5.8M1729.4 817.4l1.0 5.9M1729.1 828.6l4.4 -0.8M1729.1 828.6l0.8 4.4M1729.0 842.9l5.6 -1.0M1729.5 852.7l7.1 1.3M1729.5 852.7l-1.2 7.0M1730.1 859.0l6.2 1.1M1730.1 859.0l-0.8 4.7M1730.4 862.6l7.3 1.3M1730.4 868.2l7.3 1.3M1730.4 868.2l-0.7 4.0M1729.8 872.8l5.4 1.0M1729.8 872.8l-1.3 7.2M1730.0 877.5l6.0 1.1M1730.0 877.5l-1.2 6.7M1728.9 892.5l6.2 1.1M1730.4 898.4l6.5 1.1M1730.4 898.4l-1.2 6.7M1729.2 902.9l-1.0 5.9M1729.9 917.9l-1.2 6.7M1730.1 922.8l6.4 1.1M1730.8 928.5l3.9 0.7M1730.8 928.5l-0.7 4.2M1730.0 932.0l6.5 1.2M1730.0 932.0l-1.2 6.9M1729.7 938.0l4.4 0.8M1729.1 942.2l6.4 1.1M1733.9 808.2l7.1 -1.2M1733.9 808.2l0.9 5.0M1735.9 811.9l5.6 -1.0M1735.9 811.9l0.8 4.5M1735.0 816.9l4.9 -0.9M1735.0 816.9l0.9 4.8M1735.1 832.0l0.7 4.1M1735.6 838.0l1.0 5.6M1736.0 844.0l1.0 5.4M1735.6 849.0l6.4 -1.1M1735.1 852.3l4.8 0.8M1733.9 857.3l6.8 1.2M1735.3 868.5l-1.2 6.7M1735.9 872.2l7.3 1.3M1735.8 878.8l7.0 1.2M1736.0 887.0l6.7 1.2M1736.0 887.0l-0.9 5.1M1735.7 893.8l5.4 0.9M1736.2 898.3l4.8 0.8M1736.2 898.3l-1.1 6.0M1735.2 908.1l4.0 0.7M1735.2 908.1l-1.1 6.2M1735.9 914.1l-1.2 6.9M1734.8 919.1l-0.7 4.1M1733.9 923.4l6.1 1.1M1733.9 923.4l-1.1 6.0M1734.0 927.3l-0.8 4.3M1735.5 936.8l5.9 1.0M1735.5 936.8l-1.2 6.8M1733.9 943.3l6.5 1.2M1733.9 943.3l-1.0 5.6M1739.6 807.0l0.9 5.2M1740.8 812.5l0.8 4.5M1740.8 822.2l1.0 5.5M1739.6 826.9l7.4 -1.3M1739.6 834.2l1.1 6.0M1739.3 837.5l0.9 5.2M1738.8 842.6l4.3 -0.8M1738.8 842.6l0.9 5.3M1739.0 849.0l5.2 -0.9M1739.0 849.0l1.2 6.7M1739.3 852.0l7.1 1.2M1739.9 858.2l7.1 1.2M1739.4 863.8l5.6 1.0M1739.4 863.8l-1.0 5.9M1739.4 868.1l4.0 0.7M1739.4 868.1l-1.2 6.7M1739.9 873.0l-0.8 4.6M1739.8 878.6l-1.1 6.0M1739.7 888.2l-1.2 6.6M1739.5 893.7l5.7 1.0M1739.5 893.7l-0.9 5.3M1740.9 896.9l5.8 1.0M1739.2 908.1l4.0 0.7M1739.2 908.1l-1.3 7.3M1739.9 913.6l-1.0 5.8M1741.2 918.4l7.1 1.2M1741.0 923.8l-1.0 5.8M1739.6 928.8l7.3 1.3M1739.6 928.8l-1.0 5.5M1743.9 812.6l0.9 5.1M1745.7 828.2l6.3 -1.1M1745.0 833.6l5.2 -0.9M1746.0 839.2l1.0 5.4M1745.1 842.9l5.2 -0.9M1744.7 848.9l1.3 7.1M1744.5 857.7l7.0 1.2M1745.2 863.2l-1.0 5.8M1745.0 872.0l-1.0 5.6M1744.3 877.7l4.7 0.8M1744.3 877.7l-0.8 4.4M1744.4 883.5l6.9 1.2M1744.4 883.5l-0.8 4.7M1745.7 887.7l3.9 0.7M1745.7 887.7l-1.3 7.2M1745.0 892.8l-0.8 4.5M1745.9 898.3l6.9 1.2M1745.9 898.3l-1.0 5.5M1745.7 903.8l7.3 1.3M1745.7 903.8l-0.9 4.9M1745.0 908.1l5.6 1.0M1744.4 917.7l4.9 0.9M1744.4 917.7l-1.3 7.2M1749.8 817.4l6.0 -1.1M1749.8 817.4l0.8 4.7M1749.5 823.5l0.8 4.5M1749.6 826.9l1.2 6.8M1749.4 832.5l5.3 -0.9M1750.1 837.6l4.9 -0.9M1749.2 844.2l0.7 3.9M1750.8 846.9l0.9 5.4M1748.9 857.5l-0.8 4.4M1750.7 864.2l-0.8 4.4M1748.8 867.1l7.2 1.3M1749.2 872.8l4.5 0.8M1749.2 872.8l-0.8 4.6M1749.8 889.0l-1.0 5.9M1751.1 892.5l-1.1 6.3M1749.0 897.7l-1.3 7.3M1749.8 903.2l-1.1 6.4M1754.2 813.6l1.3 7.1M1754.1 818.0l1.2 7.0M1754.8 823.4l6.4 -1.1M1755.5 828.6l6.2 -1.1M1755.6 832.2l4.0 -0.7M1755.4 837.4l1.0 5.9M1755.1 848.0l4.1 -0.7M1756.1 853.8l6.1 1.1M1756.1 853.8l-0.9 5.1M1755.7 859.0l6.6 1.2M1755.5 862.2l6.5 1.1M1755.5 862.2l-0.8 4.5M1754.9 867.2l4.5 0.8M1754.9 867.2l-0.8 4.3M1754.8 872.6l4.6 0.8M1754.8 872.6l-0.7 4.2M1754.5 876.9l-1.0 5.6M1754.0 887.3l7.0 1.2M1754.0 887.3l-1.2 6.6M1755.6 893.8l5.4 0.9M1755.6 893.8l-1.1 6.2M1760.7 817.2l6.3 -1.1M1760.0 823.1l4.2 -0.7M1760.0 823.1l1.0 5.7M1759.1 828.9l4.0 -0.7M1760.4 833.6l7.1 -1.3M1761.0 838.7l5.4 -1.0M1761.0 838.7l1.1 6.1M1759.7 842.9l4.5 -0.8M1760.5 847.6l6.1 -1.1M1760.2 859.1l-0.8 4.6M1759.6 862.7l4.9 0.9M1759.6 862.7l-0.8 4.3M1761.0 874.0l6.2 1.1M1759.0 877.1l4.6 0.8M1760.9 882.1l4.3 0.8M1765.6 818.8l1.1 6.5M1766.0 829.1l0.8 4.4M1765.0 832.8l0.8 4.8M1764.3 842.9l4.5 -0.8M1764.3 842.9l0.9 4.9M1766.1 847.1l4.3 -0.8M1764.0 853.9l5.2 0.9M1764.0 853.9l-1.1 6.1M1764.0 858.4l4.9 0.9M1765.7 869.0l4.4 0.8M1765.7 869.0l-1.3 7.1M1770.7 824.1l1.0 5.5M1770.6 827.0l5.6 -1.0M1770.6 827.0l1.0 5.5M1769.6 832.1l0.8 4.4M1770.1 837.3l1.1 6.4M1770.2 841.8l6.6 -1.2M1770.2 841.8l1.2 6.6M1770.9 849.0l1.0 5.6M1769.0 852.5l6.7 1.2M1776.1 827.6l4.1 -0.7M1776.1 827.6l1.0 5.9M1774.1 833.5l6.8 -1.2M1775.9 837.9l6.1 -1.1M1775.9 837.9l1.0 5.5M1774.4 842.2l6.1 -1.1M1779.4 828.0l6.0 -1.1M1779.4 828.0l1.3 7.3M1779.3 834.0l6.7 -1.2M1779.3 834.0l0.9 4.9" stroke="#666" stroke-width="0.45" fill="none" opacity="0.85"/><polyline points="1643.1,908.2 1674.6,910.4 1685.8,922.8 1710.0,937.0 1728.5,947.5" stroke="#8a8a8a" stroke-width="2.2" fill="none" stroke-linejoin="round"/><polyline points="1643.1,917.2 1674.6,918.3 1685.8,922.8" stroke="#8a8a8a" stroke-width="2.2" fill="none" stroke-linejoin="round"/><polyline points="1685.8,922.8 1762.2,864.4" stroke="#707070" stroke-width="0.8" fill="none" stroke-linejoin="round"/><polyline points="1649.9,790.2 1665.6,814.9 1681.3,846.4 1684.7,875.6 1682.5,904.8 1674.6,910.4" stroke="#707070" stroke-width="0.8" fill="none" stroke-linejoin="round"/><polyline points="1682.5,931.8 1638.7,981.2" stroke="#707070" stroke-width="0.8" fill="none" stroke-linejoin="round"/><polyline points="1682.5,931.8 1706.0,1006.0" stroke="#707070" stroke-width="0.8" fill="none" stroke-linejoin="round"/><polyline points="1611.7,985.7 1611.7,1039.7" stroke="#707070" stroke-width="0.8" fill="none" stroke-linejoin="round"/><polyline points="1640.0,1000.0 1706.0,1005.0" stroke="#707070" stroke-width="0.8" fill="none" stroke-linejoin="round"/><polyline points="1636.0,842.0 1660.0,850.0 1681.0,855.0" stroke="#707070" stroke-width="0.8" fill="none" stroke-linejoin="round"/><polyline points="1681.0,846.0 1720.0,852.0 1772.0,842.0" stroke="#707070" stroke-width="0.8" fill="none" stroke-linejoin="round"/></g><polygon points="1648.7,782.0 1675.0,787.5 1700.0,792.5 1715.8,795.9 1736.5,804.0 1744.5,808.3 1760.0,815.0 1776.0,822.5 1780.0,826.0 1781.0,830.0 1775.0,845.0 1769.4,861.0 1758.0,890.0 1745.0,918.0 1733.4,945.7 1721.0,977.0 1705.6,1030.6 1681.7,1060.4 1671.1,1054.5 1628.7,1043.8 1574.3,1041.2 1586.2,985.5 1639.3,978.9 1641.3,890.0 1640.6,870.0 1639.2,856.2 1634.4,841.8 1633.4,817.9 1635.0,800.0 1638.0,790.0 1643.0,784.5" fill="none" stroke="#b8783a" stroke-width="2.8" stroke-linejoin="round"/></svg>
<!--MAP-->
</body></html>
